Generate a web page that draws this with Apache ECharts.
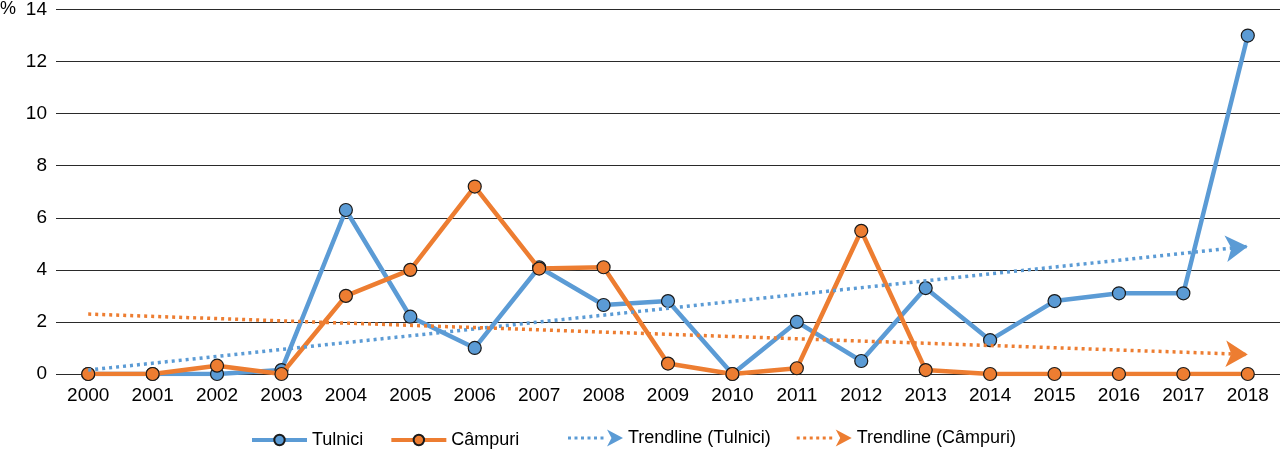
<!DOCTYPE html>
<html><head><meta charset="utf-8">
<script src="https://cdn.jsdelivr.net/npm/echarts@6/dist/echarts.min.js"></script>
<style>html,body{margin:0;padding:0;background:#fff}#c{width:1280px;height:449px}</style>
</head><body><div id="c"></div>
<script>
const years = ['2000','2001','2002','2003','2004','2005','2006','2007','2008','2009','2010','2011','2012','2013','2014','2015','2016','2017','2018'];
const tulnici = [0,0,0,0.15,6.3,2.2,1.0,4.1,2.65,2.8,0,2.0,0.5,3.3,1.3,2.8,3.1,3.1,13.0];
const campuri = [0,0,0.32,0,3.0,4.0,7.2,4.05,4.1,0.4,0,0.22,5.5,0.15,0,0,0,0,0];
const trendTulnici = [0.15, 4.9];   // values at 2000 and 2018
const trendCampuri = [2.3, 0.75];   // values at 2000 and 2018
const yTicks = [0,2,4,6,8,10,12,14];

const BLUE = '#5B9BD5', ORANGE = '#ED7D31';
const FONT = 'Liberation Sans, Arial, sans-serif';
const arrowIcon = 'path://M0,7h3v3h-3z M6.5,7h3v3h-3z M13,7h3v3h-3z M19.5,7h3v3h-3z M26,7h3v3h-3z M32.5,7h3v3h-3z M39,0 L55,8.5 L39,17 L43.5,8.5 Z';

function trendSeries(name, vals, color) {
  return {
    name: name, type: 'line', data: [], color: color, symbol: 'none',
    markLine: {
      silent: true, animation: false,
      symbol: ['none', 'arrow'], symbolSize: [20, 22],
      label: { show: false },
      lineStyle: { color: color, width: 3.5, type: [3, 4], cap: 'butt' },
      data: [[{ coord: [years[0], vals[0]] }, { coord: [years[years.length-1], vals[1]] }]]
    }
  };
}

const chart = echarts.init(document.getElementById('c'));
chart.setOption({
  animation: false,
  textStyle: { fontFamily: FONT },
  grid: { left: 56, right: 0, top: 8, bottom: 75, containLabel: false },
  graphic: [{ type: 'text', left: 0, top: 0, style: { text: '%', fontSize: 18, fontFamily: FONT, fill: '#000' } }],
  legend: [
    { left: 245, top: 426, itemWidth: 55, itemHeight: 13, itemGap: 26,
      lineStyle: { width: 4 },
      textStyle: { fontSize: 18, color: '#000', fontFamily: FONT },
      data: ['Tulnici', 'Câmpuri'] },
    { left: 563, top: 424, itemWidth: 55, itemHeight: 17, itemGap: 26,
      textStyle: { fontSize: 18, color: '#000', fontFamily: FONT },
      data: [{ name: 'Trendline (Tulnici)', icon: arrowIcon }, { name: 'Trendline (Câmpuri)', icon: arrowIcon }] }
  ],
  xAxis: {
    type: 'category', data: years, boundaryGap: true,
    axisLine: { show: false }, axisTick: { show: false },
    axisLabel: { fontSize: 19, color: '#000', margin: 12, fontFamily: FONT }
  },
  yAxis: {
    type: 'value', min: 0, max: 14, interval: 2,
    axisLine: { show: false }, axisTick: { show: false },
    axisLabel: { fontSize: 19, color: '#000', margin: 9, fontFamily: FONT,
      formatter: v => yTicks.includes(v) ? String(v) : '' },
    splitLine: { lineStyle: { color: '#2a2a2a', width: 1.2 } }
  },
  series: [
    { name: 'Tulnici', type: 'line', data: tulnici, color: BLUE, symbol: 'circle', symbolSize: 13,
      lineStyle: { width: 4.5, color: BLUE }, itemStyle: { color: BLUE, borderColor: '#1a1a1a', borderWidth: 1.2 }, z: 3 },
    { name: 'Câmpuri', type: 'line', data: campuri, color: ORANGE, symbol: 'circle', symbolSize: 13,
      lineStyle: { width: 4.5, color: ORANGE }, itemStyle: { color: ORANGE, borderColor: '#1a1a1a', borderWidth: 1.2 }, z: 4 },
    trendSeries('Trendline (Tulnici)', trendTulnici, BLUE),
    trendSeries('Trendline (Câmpuri)', trendCampuri, ORANGE)
  ]
});
</script></body></html>
